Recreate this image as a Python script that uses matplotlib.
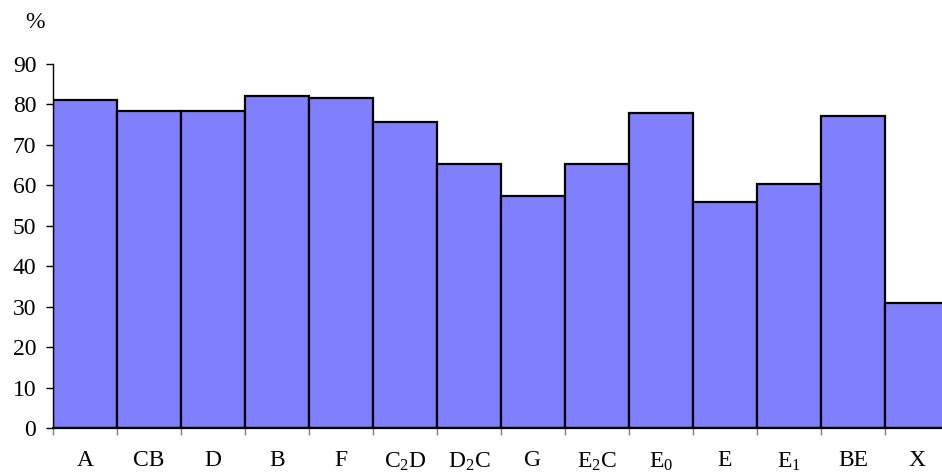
import matplotlib
matplotlib.use("Agg")
import matplotlib.pyplot as plt
import numpy as np

plt.rcParams["font.family"] = ["Liberation Serif", "DejaVu Serif"]
plt.rcParams["mathtext.default"] = "regular"

categories = ["A", "CB", "D", "B", "F", "C$_2$D", "D$_2$C", "G",
              "E$_2$C", "E$_0$", "E", "E$_1$", "BE", "X"]
values = [81.1, 78.3, 78.3, 82.0, 81.5, 75.7, 65.3, 57.4,
          65.3, 77.8, 55.8, 60.4, 77.2, 30.8]
y_ticks = [0, 10, 20, 30, 40, 50, 60, 70, 80, 90]

fig = plt.figure(figsize=(9.42, 4.72), dpi=100)
# the last bar runs a little past the right edge of the picture
ax = fig.add_axes([53 / 942, 44 / 472, 896 / 942, 364 / 472])

x = np.arange(len(categories))
ax.bar(x, values, width=1.0, color="#8080ff", edgecolor="black",
       linewidth=1.6, zorder=2)

ax.set_xlim(-0.5, len(categories) - 0.5)
ax.set_ylim(0, 90)

for side in ["top", "right"]:
    ax.spines[side].set_visible(False)
ax.spines["left"].set_linewidth(1.0)
ax.spines["bottom"].set_linewidth(1.6)
ax.spines["bottom"].set_zorder(3)

ax.set_yticks(y_ticks)
ax.tick_params(axis="y", direction="out", length=5, width=1.0,
               labelsize=17, pad=7)

# labels centred under bars, tick marks at the bar boundaries
ax.set_xticks(x)
ax.set_xticklabels(categories)
ax.tick_params(axis="x", which="major", length=0, labelsize=17, pad=16)
ax.set_xticks(np.arange(len(categories)) - 0.5, minor=True)
ax.tick_params(axis="x", which="minor", direction="out", length=5,
               width=1.0, color="#808080")

fig.text(35 / 942, 1 - 22 / 472, "%", fontsize=17, ha="center", va="center")

fig.savefig("out.png", dpi=100)
